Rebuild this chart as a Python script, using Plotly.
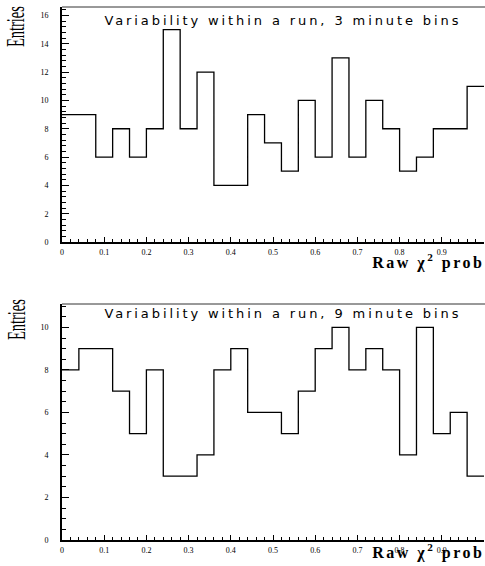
import plotly.graph_objects as go

# bin edges (25 bins of width 0.04 from 0 to 1)
bin_edges = [round(i * 0.04, 2) for i in range(26)]

counts_3min = [9, 9, 6, 8, 6, 8, 15, 8, 12, 4, 4, 9, 7, 5, 10, 6, 13, 6, 10, 8, 5, 6, 8, 8, 11]
counts_9min = [8, 9, 9, 7, 5, 8, 3, 3, 4, 8, 9, 6, 6, 5, 7, 9, 10, 8, 9, 8, 4, 10, 5, 6, 3]

title_3min = "Variability within a run, 3 minute bins"
title_9min = "Variability within a run, 9 minute bins"
y_title = "Entries"
x_title = "Raw χ<sup>2</sup> prob"

W, H = 485, 566
L, R, T, B = 62, 1, 7, 26
PW = W - L - R
PH = H - T - B


def px_x(x):
    return (x - L) / PW


def px_y(y):
    return (H - B - y) / PH


fig = go.Figure()

for counts, xa, ya in [(counts_3min, "x", "y"), (counts_9min, "x2", "y2")]:
    fig.add_trace(go.Scatter(
        x=bin_edges,
        y=counts + [counts[-1]],
        mode="lines",
        line=dict(shape="hv", color="black", width=1.3),
        xaxis=xa, yaxis=ya, showlegend=False, hoverinfo="skip",
    ))

tickfont = dict(family="Liberation Serif", size=8, color="black")

xcommon = dict(
    range=[0, 1], dtick=0.1, tick0=0, ticks="inside", ticklen=5, tickwidth=1,
    tickcolor="black", showline=True, linecolor="black", linewidth=2,
    showgrid=False, zeroline=False, tickfont=tickfont, ticklabelstandoff=1,
    minor=dict(dtick=0.02, ticks="inside", ticklen=3, tickcolor="black", showgrid=False),
)
ycommon = dict(
    ticks="inside", ticklen=7, tickwidth=1, tickcolor="black", showline=True,
    linecolor="black", linewidth=2, showgrid=False, zeroline=False,
    tickfont=tickfont, ticklabelstandoff=10,
)

top_dom = [px_y(242), 1.0]
bot_dom = [0.0, px_y(304)]

fig.update_layout(
    width=W, height=H,
    margin=dict(l=L, r=R, t=T, b=B),
    paper_bgcolor="white", plot_bgcolor="white",
    xaxis=dict(domain=[0, 1], anchor="y", **xcommon),
    yaxis=dict(domain=top_dom, anchor="x", range=[0, 16.6], dtick=2,
               minor=dict(dtick=0.4, ticks="inside", ticklen=4, tickcolor="black", showgrid=False),
               **ycommon),
    xaxis2=dict(domain=[0, 1], anchor="y2", **xcommon),
    yaxis2=dict(domain=bot_dom, anchor="x2", range=[0, 11.1], dtick=2,
                minor=dict(dtick=0.5, ticks="inside", ticklen=4, tickcolor="black", showgrid=False),
                **ycommon),
)

# top frame lines
for ytop in [top_dom[1], bot_dom[1]]:
    fig.add_shape(type="line", xref="paper", yref="paper", x0=0, x1=1.01,
                  y0=ytop, y1=ytop, line=dict(color="#333333", width=1))

annots = []
for title, ty in [(title_3min, 20), (title_9min, 313)]:
    annots.append(dict(text=title, xref="paper", yref="paper", x=px_x(283), y=px_y(ty),
                       xanchor="center", yanchor="middle", showarrow=False,
                       font=dict(family="DejaVu Sans", size=13, color="black")))
for cy in [27, 320]:
    annots.append(dict(text=y_title, xref="paper", yref="paper", x=px_x(16), y=px_y(cy),
                       xanchor="center", yanchor="middle", textangle=-90, showarrow=False,
                       font=dict(family="Liberation Serif", size=25, color="black")))
for cy in [261, 551]:
    annots.append(dict(text=x_title, xref="paper", yref="paper", x=px_x(428), y=px_y(cy),
                       xanchor="center", yanchor="middle", showarrow=False,
                       font=dict(family="Liberation Serif", size=16, color="black", weight="bold")))
fig.update_layout(annotations=annots)

post = """
document.body.style.margin = '0';
document.body.style.overflow = 'hidden';
document.querySelectorAll('text.annotation-text').forEach(function(t){
  var s = t.textContent;
  if (s.indexOf('Variability') === 0) { t.style.letterSpacing = '2.9px'; }
  else if (s.indexOf('Raw') === 0) { t.style.letterSpacing = '2.5px'; }
  else if (s === 'Entries') {
    var b = t.getBBox(); var cx = b.x + b.width / 2, cy = b.y + b.height / 2;
    t.setAttribute('transform', 'translate(' + cx + ',' + cy + ') scale(0.58,1) translate(' + (-cx) + ',' + (-cy) + ')');
  }
});
"""

fig.write_html("out.html", post_script=post, config={"displayModeBar": False})
